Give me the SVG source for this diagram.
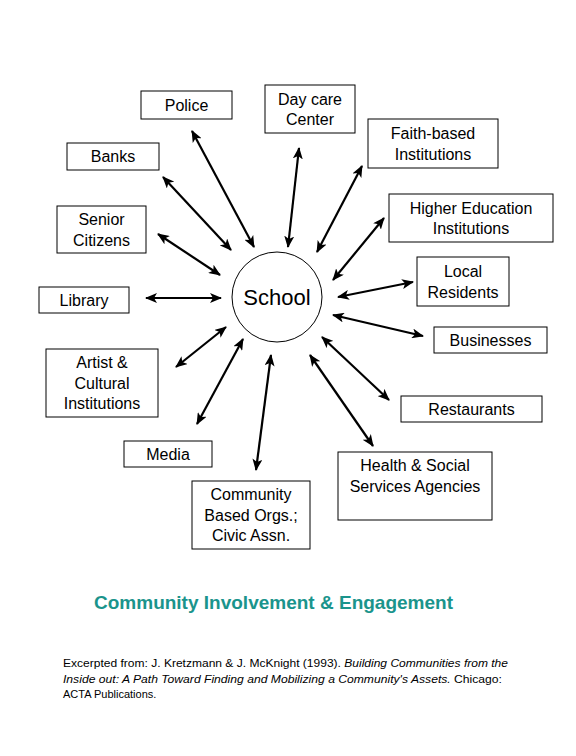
<svg xmlns="http://www.w3.org/2000/svg" width="576" height="756" viewBox="0 0 576 756">
<defs>
<style>
.box{fill:#fff;stroke:#000;stroke-width:1}
.t{font-family:"Liberation Sans",Arial,sans-serif;font-size:16px;fill:#000;text-anchor:middle}
.c line{stroke:#000;stroke-width:2.2;marker-start:url(#ah);marker-end:url(#ah)}
.cite{font-family:"Liberation Sans",Arial,sans-serif;font-size:11px;fill:#000}
</style>
<marker id="ah" viewBox="0 0 12 10" refX="11" refY="5" markerWidth="12" markerHeight="10" markerUnits="userSpaceOnUse" orient="auto-start-reverse">
<path d="M0,0 L12,5 L0,10 L3,5 Z" fill="#000"/>
</marker>
</defs>
<rect width="576" height="756" fill="#fff"/>

<g id="connectors" class="c">
<line x1="192" y1="131" x2="254" y2="247"/>
<line x1="299" y1="148" x2="288" y2="247"/>
<line x1="362" y1="166" x2="317" y2="252"/>
<line x1="163" y1="177" x2="231" y2="250"/>
<line x1="384" y1="218" x2="333" y2="280"/>
<line x1="158" y1="234" x2="220" y2="275"/>
<line x1="413" y1="282" x2="338" y2="297"/>
<line x1="146" y1="298" x2="221" y2="298"/>
<line x1="333" y1="315" x2="423" y2="336"/>
<line x1="226" y1="327" x2="176" y2="367"/>
<line x1="322" y1="337" x2="389" y2="400"/>
<line x1="243" y1="339" x2="197" y2="424"/>
<line x1="310" y1="355" x2="373" y2="446"/>
<line x1="271" y1="355" x2="256" y2="470"/>
</g>

<g id="school">
<circle cx="277" cy="297" r="45" fill="#fff" stroke="#000" stroke-width="1"/>
<text class="t" x="277" y="305" style="font-size:22px">School</text>
</g>
<g id="police"><rect class="box" x="141" y="91" width="91" height="28"/><text class="t" x="186.5" y="111">Police</text></g>
<g id="daycare"><rect class="box" x="265" y="85" width="90" height="48"/><text class="t" x="310" y="105">Day care</text><text class="t" x="310" y="125">Center</text></g>
<g id="faith"><rect class="box" x="368" y="119" width="130" height="49"/><text class="t" x="433" y="139">Faith-based</text><text class="t" x="433" y="160">Institutions</text></g>
<g id="banks"><rect class="box" x="67" y="143" width="92" height="27"/><text class="t" x="113" y="162">Banks</text></g>
<g id="higher"><rect class="box" x="389" y="194" width="164" height="48"/><text class="t" x="471" y="214">Higher Education</text><text class="t" x="471" y="234">Institutions</text></g>
<g id="senior"><rect class="box" x="57" y="206" width="89" height="47"/><text class="t" x="101.5" y="225">Senior</text><text class="t" x="101.5" y="246">Citizens</text></g>
<g id="local"><rect class="box" x="417" y="257" width="92" height="49"/><text class="t" x="463" y="277">Local</text><text class="t" x="463" y="298">Residents</text></g>
<g id="library"><rect class="box" x="39" y="287" width="90" height="26"/><text class="t" x="84" y="306">Library</text></g>
<g id="businesses"><rect class="box" x="434" y="327" width="113" height="26"/><text class="t" x="490.5" y="346">Businesses</text></g>
<g id="artist"><rect class="box" x="46" y="349" width="112" height="68"/><text class="t" x="102" y="368">Artist &amp;</text><text class="t" x="102" y="389">Cultural</text><text class="t" x="102" y="409">Institutions</text></g>
<g id="restaurants"><rect class="box" x="401" y="396" width="141" height="26"/><text class="t" x="471.5" y="415">Restaurants</text></g>
<g id="media"><rect class="box" x="124" y="441" width="88" height="26"/><text class="t" x="168" y="460">Media</text></g>
<g id="health"><rect class="box" x="338" y="452" width="154" height="68"/><text class="t" x="415" y="471">Health &amp; Social</text><text class="t" x="415" y="492">Services Agencies</text></g>
<g id="community"><rect class="box" x="192" y="481" width="118" height="68"/><text class="t" x="251" y="500">Community</text><text class="t" x="251" y="521">Based Orgs.;</text><text class="t" x="251" y="541">Civic Assn.</text></g>

<g id="title">
<text x="94" y="609" textLength="359" style="font-family:'Liberation Sans',Arial,sans-serif;font-size:19px;font-weight:bold;fill:#1a948c">Community Involvement &amp; Engagement</text>
</g>
<g id="citation">
<text class="cite" x="63" y="667" textLength="445" lengthAdjust="spacingAndGlyphs">Excerpted from: J. Kretzmann &amp; J. McKnight (1993).  <tspan font-style="italic">Building Communities from the</tspan></text>
<text class="cite" x="63" y="683" textLength="439" lengthAdjust="spacingAndGlyphs"><tspan font-style="italic">Inside out: A Path Toward Finding and Mobilizing a Community's Assets.</tspan>  Chicago:</text>
<text class="cite" x="63" y="698">ACTA Publications.</text>
</g>
</svg>
